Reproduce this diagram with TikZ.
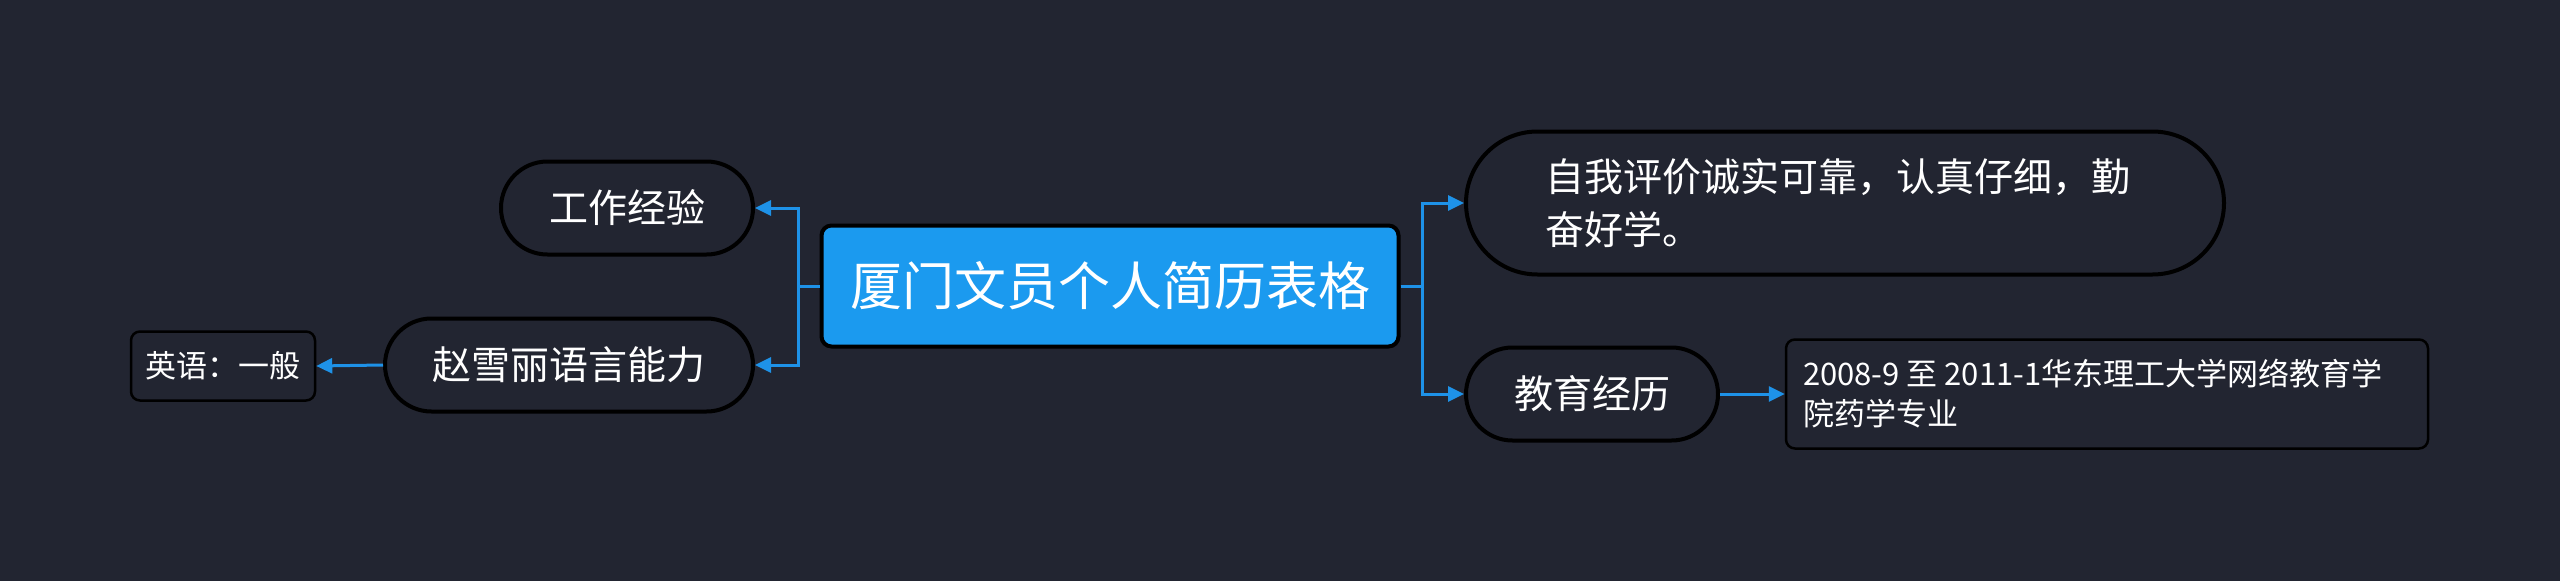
\documentclass[tikz,border=0pt]{standalone}
\usepackage{fontspec}
\setmainfont{Noto Sans CJK SC}
\usetikzlibrary{arrows.meta,shapes.misc}
\definecolor{bgdark}{RGB}{34,37,49}
\definecolor{rootblue}{RGB}{27,154,239}
\definecolor{linkblue}{RGB}{30,146,232}

\begin{document}
\begin{tikzpicture}[x=1pt,y=-1pt,
    pill/.style={rounded rectangle,draw=black,line width=4pt,fill=bgdark,text=white,
        font=\fontsize{39}{45}\selectfont,minimum height=93pt,inner xsep=0pt},
    leaf/.style={rectangle,rounded corners=9pt,draw=black,line width=2.5pt,fill=bgdark,text=white},
    link/.style={linkblue,line width=3pt,-{Triangle[length=16pt,width=15pt]}}]
    \fill[bgdark] (0,0) rectangle (2560,581);
    \useasboundingbox (0,0) rectangle (2560,581);
    \node[rectangle,rounded corners=10pt,draw=black,line width=4pt,fill=rootblue,text=white,
        font=\fontsize{52}{60}\selectfont,minimum width=577pt,minimum height=121pt] (root) at (1110,286) {厦门文员个人简历表格};
    \node[pill,minimum width=252pt] (work) at (627,208) {工作经验};
    \node[pill,minimum width=368pt] (lang) at (569,365) {赵雪丽语言能力};
    \node[leaf,font=\fontsize{31}{36}\selectfont,minimum width=184pt,minimum height=69pt] (eng) at (223,366) {英语：一般};
    \node[pill,minimum width=758pt,minimum height=143pt,text width=600pt,align=flush left,
        font=\fontsize{39}{53}\selectfont] (self) at (1845,203) {自我评价诚实可靠，认真仔细，勤\\奋好学。};
    \node[pill,minimum width=252pt] (edu) at (1592,394) {教育经历};
    \node[leaf,font=\fontsize{31}{40}\selectfont,minimum width=642pt,minimum height=109pt,
        inner xsep=17pt,text width=608pt,align=flush left] (school) at (2107,394) {2008-9 至 2011-1华东理工大学网络教育学\\院药学专业};
    \coordinate (ltrunk) at (798,286);
    \coordinate (rtrunk) at (1422,286);
    \draw[link] (root.west) -- (ltrunk) |- (work.east);
    \draw[link] (root.west) -- (ltrunk) |- (lang.east);
    \draw[link] (root.east) -- (rtrunk) |- (self.west);
    \draw[link] (root.east) -- (rtrunk) |- (edu.west);
    \draw[link] (lang.west) -- (eng.east);
    \draw[link] (edu.east) -- (school.west);
\end{tikzpicture}
\end{document}
